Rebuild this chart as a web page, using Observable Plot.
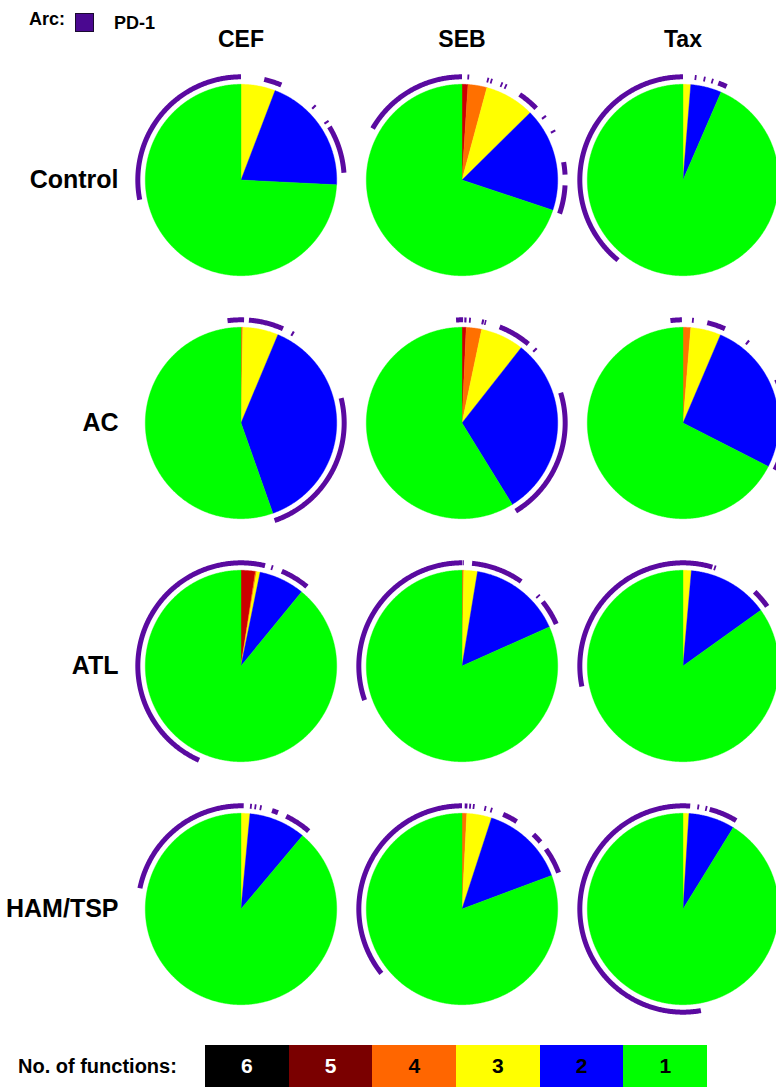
<!DOCTYPE html>
<html>
<head>
<meta charset="utf-8">
<script src="https://cdn.jsdelivr.net/npm/d3@7"></script>
<script src="https://cdn.jsdelivr.net/npm/@observablehq/plot@0.6"></script>
<style>
  html, body { margin: 0; padding: 0; background: #fff; overflow: hidden; width: 776px; height: 1087px; }
  body { position: relative; font-family: "Liberation Sans", Arial, Helvetica, sans-serif; color: #000; }
  #arcLegend { position: absolute; left: 0; top: 0; width: 776px; height: 30px; }
  #arcLegend span { position: absolute; font-weight: bold; line-height: 18px; }
  #chart { position: absolute; left: 0; top: 30px; width: 794px; }
  #chart svg { max-width: none !important; }
  #fnLegend { position: absolute; left: 0; top: 1045px; width: 776px; height: 42px; }
  #fnLegend .lab { position: absolute; left: 18px; top: 11px; font-weight: bold; font-size: 20px; line-height: 20px; white-space: nowrap; }
  #fnLegend .boxes { position: absolute; left: 205px; top: 0; display: flex; }
  #fnLegend .box { width: 83.7px; height: 42px; display: flex; align-items: center; justify-content: center; font-weight: bold; font-size: 21px; }
</style>
</head>
<body>
<div id="arcLegend"></div>
<div id="chart"></div>
<div id="fnLegend"></div>
<script>
// ---------- data ----------
const groups = ["Control", "AC", "ATL", "HAM/TSP"];
const antigens = ["CEF", "SEB", "Tax"];
const functionCounts = [6, 5, 4, 3, 2, 1];
const sliceColors = ["#000000", "#cc0000", "#ff7000", "#ffff00", "#0000ff", "#00ff00"];
const legendColors = ["#000000", "#7a0000", "#ff6600", "#ffff00", "#0000ff", "#00ff00"];
const legendTextColors = ["#ffffff", "#ffffff", "#000000", "#000000", "#000000", "#000000"];
const arcLabel = "PD-1";

// percent of cells per number of functions (order 6,5,4,3,2,1), one row per antigen (CEF, SEB, Tax)
const controlPct = [
  [0, 0, 0, 5.8, 20.0, 74.2],
  [0, 1.0, 3.2, 8.4, 17.5, 69.9],
  [0, 0, 0, 1.3, 5.2, 93.5]
];
const acPct = [
  [0, 0, 0.3, 6.0, 38.3, 55.4],
  [0, 0.7, 2.6, 7.3, 30.6, 58.8],
  [0, 0, 1.3, 5.1, 26.1, 67.5]
];
const atlPct = [
  [0, 2.4, 0.2, 0.6, 7.7, 89.1],
  [0, 0, 0.3, 2.3, 15.7, 81.7],
  [0, 0, 0, 1.4, 13.7, 84.9]
];
const hamPct = [
  [0, 0, 0, 1.5, 9.6, 88.9],
  [0, 0, 0.8, 4.2, 14.3, 80.7],
  [0, 0, 0, 1.0, 7.8, 91.2]
];

// PD-1 arcs: [start, end] in degrees clockwise from 12 o'clock
const controlPD1 = [
  [[259, 360], [13, 23], [44.4, 45.6], [55.4, 56.6], [59, 86]],
  [[300, 360], [3, 4], [14, 15], [16, 17], [22, 23], [24.5, 25.5], [34, 46], [52, 53.2], [61.4, 62.6], [80, 87], [93, 109]],
  [[219, 360], [6.5, 7.5], [11.5, 12.5], [16, 17], [20, 25]]
];
const acPD1 = [
  [[352.5, 361.7], [4.4, 24], [29.4, 30.6], [76, 161]],
  [[356.7, 360.6], [361.3, 362.5], [363.9, 364.9], [11, 12.2], [12.6, 13.5], [21.4, 40], [44.4, 45.6], [73, 148.6]],
  [[353, 359.4], [5, 6], [13.6, 24], [38.1, 39.3], [65, 117]]
];
const atlPD1 = [
  [[204, 373.5], [17, 18], [23.3, 39.7]],
  [[250.7, 360], [0.3, 1], [5.6, 35], [47, 48], [51.5, 66]],
  [[258.6, 376.5], [377.5, 378.5], [44, 54.7]]
];
const hamPD1 = [
  [[281.6, 361.5], [5, 6], [7.5, 8.5], [10.5, 11.5], [17.5, 21], [26, 41]],
  [[231.4, 360], [1.5, 3], [4, 5], [6, 7], [12.5, 13.5], [16, 17], [23.5, 32], [43.8, 49.5], [54.5, 69.4]],
  [[170, 364], [8, 9], [12.5, 13.5], [15, 31]]
];

const pctByGroup = [controlPct, acPct, atlPct, hamPct];
const pd1ByGroup = [controlPD1, acPD1, atlPD1, hamPD1];

// ---------- build tables ----------
const ARC_R = 1.078; // arc radius relative to pie radius
const rad = d => d * Math.PI / 180;
const slicePts = [];
const arcPts = [];
groups.forEach((g, gi) => antigens.forEach((a, ai) => {
  let cum = 0;
  pctByGroup[gi][ai].forEach((p, k) => {
    if (p <= 0) return;
    const a0 = cum / 100 * 360, a1 = (cum + p) / 100 * 360;
    cum += p;
    const id = `${g}|${a}|${functionCounts[k]}`;
    const n = Math.max(2, Math.ceil((a1 - a0) / 0.5));
    slicePts.push({group: g, antigen: a, id, fn: functionCounts[k], x: 0, y: 0});
    for (let i = 0; i <= n; i++) {
      const t = rad(a0 + (a1 - a0) * i / n);
      slicePts.push({group: g, antigen: a, id, fn: functionCounts[k], x: Math.sin(t), y: Math.cos(t)});
    }
    slicePts.push({group: g, antigen: a, id, fn: functionCounts[k], x: 0, y: 0});
  });
  pd1ByGroup[gi][ai].forEach(([s, e], j) => {
    const id = `${g}|${a}|arc${j}`;
    const n = Math.max(2, Math.ceil((e - s) / 0.5));
    for (let i = 0; i <= n; i++) {
      const t = rad(s + (e - s) * i / n);
      arcPts.push({group: g, antigen: a, id, x: ARC_R * Math.sin(t), y: ARC_R * Math.cos(t)});
    }
  });
}));

// ---------- plot ----------
const W = 794, H = 1005, ML = 129, MR = 0, MT = 26, MB = 4;
const R = 96; // pie radius in px
const fw = (W - ML - MR) / antigens.length;
const fh = (H - MT - MB) / groups.length;
const FONT = "Liberation Sans, Arial, Helvetica, sans-serif";

const chart = Plot.plot({
  width: W, height: H,
  marginLeft: ML, marginRight: MR, marginTop: MT, marginBottom: MB,
  style: {fontFamily: FONT, background: "transparent", color: "#000", overflow: "visible", maxWidth: "none"},
  fx: {domain: antigens, padding: 0, label: null},
  fy: {domain: groups, padding: 0, label: null},
  x: {domain: [-fw / 2 / R, fw / 2 / R], axis: null},
  y: {domain: [-fh / 2 / R, fh / 2 / R], axis: null},
  color: {type: "ordinal", domain: functionCounts, range: sliceColors},
  marks: [
    Plot.line(slicePts, {x: "x", y: "y", z: "id", fx: "antigen", fy: "group", fill: "fn", stroke: "fn", strokeWidth: 0.4, curve: "linear"}),
    Plot.line(arcPts, {x: "x", y: "y", z: "id", fx: "antigen", fy: "group", stroke: "#5a0aa0", strokeWidth: 5, strokeLinecap: "butt", curve: "linear"}),
    Plot.axisFx({anchor: "top", tickSize: 0, tickPadding: 12, fontSize: 23, fontWeight: "bold", label: null, fontFamily: FONT}),
    Plot.axisFy({anchor: "left", tickSize: 0, tickPadding: 12, fontSize: 25, fontWeight: "bold", label: null, fontFamily: FONT})
  ]
});
chart.style.maxWidth = "none";
document.getElementById("chart").appendChild(chart);

// ---------- legends ----------
const arcLegendEl = document.getElementById("arcLegend");
arcLegendEl.innerHTML = `
  <span style="left:29px;top:10px;font-size:18px;">Arc:</span>
  <span style="left:75px;top:13px;width:17px;height:17px;background:#4a0890;border:1px solid #1a0a30;"></span>
  <span style="left:114px;top:14px;font-size:18px;">${arcLabel}</span>`;

const fnLegendEl = document.getElementById("fnLegend");
const lab = document.createElement("div");
lab.className = "lab";
lab.textContent = "No. of functions:";
fnLegendEl.appendChild(lab);
const boxes = document.createElement("div");
boxes.className = "boxes";
functionCounts.forEach((f, i) => {
  const b = document.createElement("div");
  b.className = "box";
  b.style.background = legendColors[i];
  b.style.color = legendTextColors[i];
  b.textContent = f;
  boxes.appendChild(b);
});
fnLegendEl.appendChild(boxes);
</script>
</body>
</html>
